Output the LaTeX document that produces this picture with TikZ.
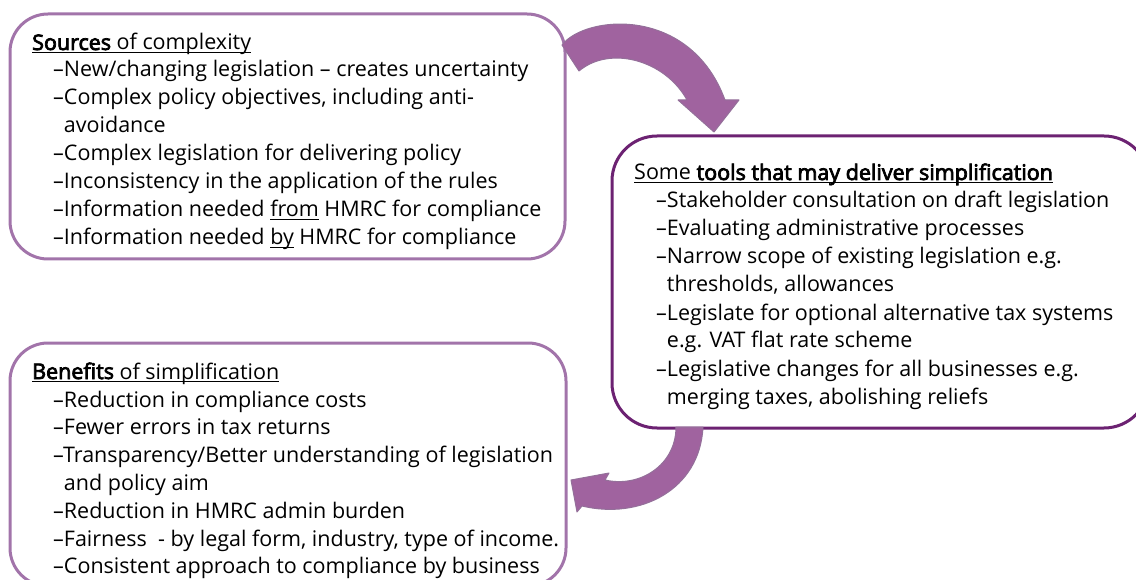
\documentclass[tikz,border=0pt]{standalone}
\usepackage{fontspec}
\setmainfont{Open Sans}[BoldFont={Open Sans},BoldFeatures={FakeBold=3.5}]
\newlength\ulw
\newcommand\myul[1]{\settowidth\ulw{#1}\rlap{\rule[-3pt]{\ulw}{1.1pt}}#1}
\definecolor{boxlight}{HTML}{A274AA}
\definecolor{boxdark}{HTML}{6C2272}
\definecolor{arrowfill}{HTML}{A0639F}
\definecolor{arrowedge}{HTML}{94709A}
\begin{document}
\begin{tikzpicture}[x=1pt,y=-1pt,
  panel/.style={line width=3pt,rounded corners=38pt},
  txt/.style={anchor=base west,inner sep=0pt,font=\fontsize{21.5}{24}\selectfont},
  bigarrow/.style={fill=arrowfill,draw=arrowedge,line width=1pt,line join=round}]
\useasboundingbox (0,0) rectangle (1136,580);
\clip (0,0) rectangle (1136,580);

% panels
\draw[panel,draw=boxlight] (10,14) rectangle (565,259);
\draw[panel,draw=boxdark,rounded corners=45pt] (612,136) rectangle (1149,428);
\draw[panel,draw=boxlight] (10,343) rectangle (566,586);

% curved arrows
\draw[bigarrow] (562,45) .. controls (585,15) and (690,5) .. (725,100)
  -- (739,100) -- (714,132) -- (678,100) -- (687,100)
  .. controls (665,60) and (610,45) .. (579,71) -- cycle;
\draw[bigarrow] (676,427) -- (703,427)
  .. controls (700,490) and (640,520) .. (582,506)
  -- (577,512) -- (571,480) -- (609,473) -- (605,480)
  .. controls (640,488) and (676,465) .. (676,427) -- cycle;

% Sources
\node[txt] (s0) at (32,50) {\myul{\textbf{Sources} of complexity}};
\node[txt] (s1) at (53,77) {–New/changing legislation – creates uncertainty};
\node[txt] (s2) at (53,105) {–Complex policy objectives, including anti-};
\node[txt] (s2b) at (53,133) {\hphantom{–}avoidance};
\node[txt] (s3) at (53,161) {–Complex legislation for delivering policy};
\node[txt] (s4) at (53,189) {–Inconsistency in the application of the rules};
\node[txt] (s5) at (53,217) {–Information needed \myul{from} HMRC for compliance};
\node[txt] (s6) at (53,245) {–Information needed \myul{by} HMRC for compliance};

% Tools
\node[txt] (t0) at (634,180) {\myul{Some \textbf{tools that may deliver simplification}}};
\node[txt] (t1) at (656,208) {–Stakeholder consultation on draft legislation};
\node[txt] (t2) at (656,236) {–Evaluating administrative processes};
\node[txt] (t3) at (656,264) {–Narrow scope of existing legislation e.g.};
\node[txt] (t3b) at (656,292) {\hphantom{–}thresholds, allowances};
\node[txt] (t4) at (656,320) {–Legislate for optional alternative tax systems};
\node[txt] (t4b) at (656,348) {\hphantom{–}e.g. VAT flat rate scheme};
\node[txt] (t5) at (656,376) {–Legislative changes for all businesses e.g.};
\node[txt] (t5b) at (656,404) {\hphantom{–}merging taxes, abolishing reliefs};

% Benefits
\node[txt] (b0) at (32,379) {\myul{\textbf{Benefits} of simplification}};
\node[txt] (b1) at (53,407) {–Reduction in compliance costs};
\node[txt] (b2) at (53,434.8) {–Fewer errors in tax returns};
\node[txt] (b3) at (53,462.6) {–Transparency/Better understanding of legislation};
\node[txt] (b3b) at (53,490.4) {\hphantom{–}and policy aim};
\node[txt] (b4) at (53,518.2) {–Reduction in HMRC admin burden};
\node[txt] (b5) at (53,546) {–Fairness\ \ - by legal form, industry, type of income.};
\node[txt] (b6) at (53,573.8) {–Consistent approach to compliance by business};
\end{tikzpicture}
\end{document}
